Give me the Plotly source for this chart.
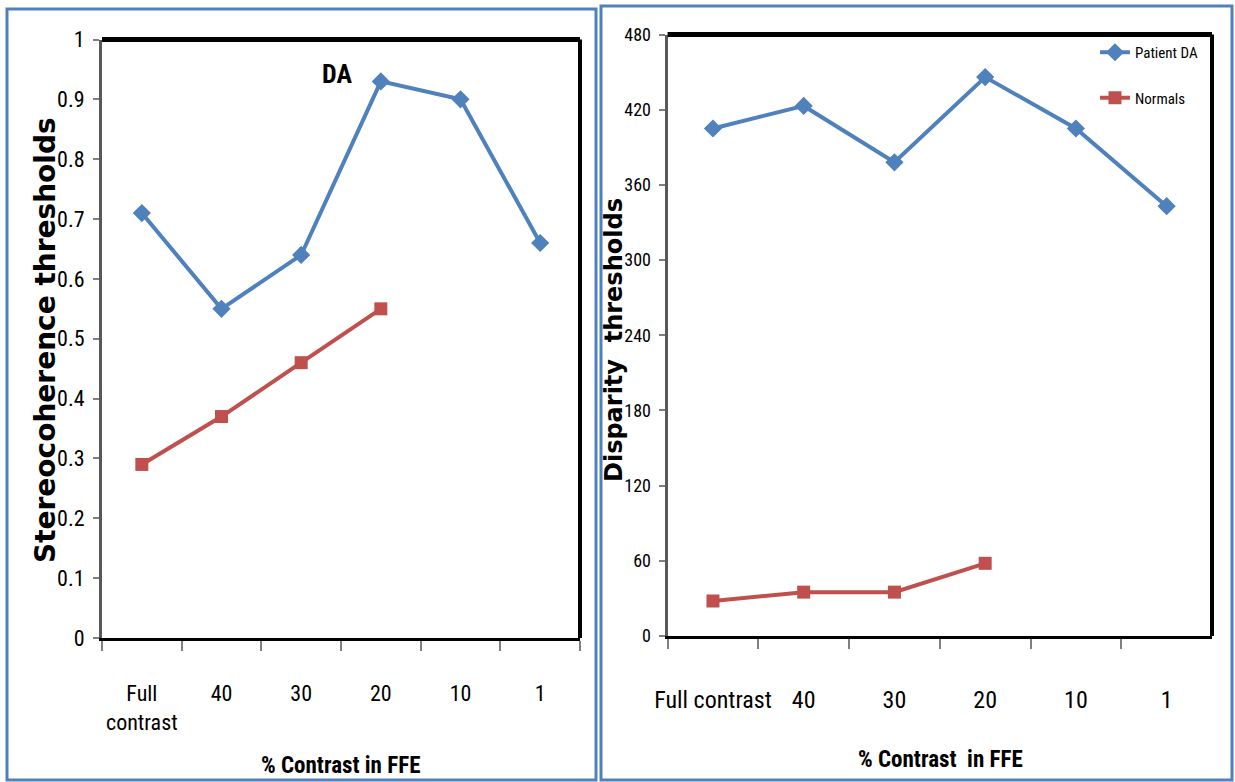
import plotly.graph_objects as go
from plotly.subplots import make_subplots

categories = ["Full contrast", "40", "30", "20", "10", "1"]
left_tick_labels = ["Full<br>contrast", "40", "30", "20", "10", "1"]
right_tick_labels = ["Full contrast", "40", "30", "20", "10", "1"]

stereo_patient = [0.71, 0.55, 0.64, 0.93, 0.90, 0.66]
stereo_normals = [0.29, 0.37, 0.46, 0.55, None, None]

disp_patient = [405, 423, 378, 446, 405, 343]
disp_normals = [28, 35, 35, 58, None, None]

left_yticks = [0, 0.1, 0.2, 0.3, 0.4, 0.5, 0.6, 0.7, 0.8, 0.9, 1]
right_yticks = [0, 60, 120, 180, 240, 300, 360, 420, 480]

W, H = 1235, 782
BLUE = "#4F81BD"
RED = "#C0504D"
NARROW = "Liberation Sans Narrow, Arial Narrow, Roboto Condensed, sans-serif"
WIDE = "DejaVu Sans, Verdana, sans-serif"


def px(x):
    return x / W


def py(y):
    return 1 - y / H


fig = make_subplots(rows=1, cols=2)

fig.add_trace(go.Scatter(x=categories, y=stereo_patient, mode="lines+markers",
                         line=dict(color=BLUE, width=4),
                         marker=dict(symbol="diamond", size=14, color=BLUE),
                         showlegend=False, name="Patient DA"), row=1, col=1)
fig.add_trace(go.Scatter(x=categories, y=stereo_normals, mode="lines+markers",
                         line=dict(color=RED, width=4),
                         marker=dict(symbol="square", size=13, color=RED),
                         showlegend=False, name="Normals"), row=1, col=1)
fig.add_trace(go.Scatter(x=categories, y=disp_patient, mode="lines+markers",
                         line=dict(color=BLUE, width=4),
                         marker=dict(symbol="diamond", size=14, color=BLUE),
                         name="Patient DA", legendgroup="a"), row=1, col=2)
fig.add_trace(go.Scatter(x=categories, y=disp_normals, mode="lines+markers",
                         line=dict(color=RED, width=4),
                         marker=dict(symbol="square", size=13, color=RED),
                         name="Normals", legendgroup="b"), row=1, col=2)

axis_common = dict(showgrid=False, zeroline=False, ticks="outside",
                   tickcolor="#808080", tickwidth=2, automargin=False)

fig.update_xaxes(axis_common, type="category", tickson="boundaries", ticklen=10,
                 range=[-0.5, len(categories) - 0.5],
                 tickangle=0, showline=True, linecolor="black", linewidth=3,
                 tickfont=dict(family=NARROW, size=22, color="black"))
fig.update_yaxes(axis_common, ticklen=6, showline=True, linecolor="#595959", linewidth=3,
                 ticklabelstandoff=4,
                 tickfont=dict(family=NARROW, size=22, color="black"))

fig.update_xaxes(domain=[px(102), px(580)], tickvals=categories, ticktext=left_tick_labels,
                 ticklabelstandoff=34, row=1, col=1)
fig.update_yaxes(domain=[py(638), py(39.5)], range=[0, 1], tickvals=left_yticks,
                 ticktext=[("%g" % v) for v in left_yticks], row=1, col=1)
fig.update_xaxes(domain=[px(667.6), px(1212)], tickvals=categories, ticktext=right_tick_labels,
                 ticklabelstandoff=40, tickfont=dict(size=24), row=1, col=2)
fig.update_yaxes(domain=[py(636), py(34.5)], range=[0, 480], tickvals=right_yticks,
                 tickfont=dict(size=18), row=1, col=2)

shapes = []
# panel frames
shapes.append(dict(type="rect", xref="paper", yref="paper", x0=px(7), x1=px(596), y0=py(780), y1=py(9),
                   line=dict(color=BLUE, width=3)))
shapes.append(dict(type="rect", xref="paper", yref="paper", x0=px(601), x1=px(1232), y0=py(780), y1=py(6),
                   line=dict(color=BLUE, width=3)))
# top and right black borders of plot areas
for xr, yr in [("x domain", "y domain"), ("x2 domain", "y2 domain")]:
    shapes.append(dict(type="line", xref=xr, yref=yr, x0=0, x1=1, y0=1, y1=1,
                       line=dict(color="black", width=5)))
    shapes.append(dict(type="line", xref=xr, yref=yr, x0=1, x1=1, y0=0, y1=1,
                       line=dict(color="black", width=4)))

ann_common = dict(xref="paper", yref="paper", showarrow=False, xanchor="center", yanchor="middle")
annotations = [
    dict(ann_common, text="<b>DA</b>", x=px(337), y=py(74),
         font=dict(family=NARROW, size=26, color="black")),
    dict(ann_common, text="<b>Stereocoherence thresholds</b>", x=px(46), y=py(340), textangle=-90,
         font=dict(family=WIDE, size=28, color="black")),
    dict(ann_common, text="<b>Disparity  thresholds</b>", x=px(614), y=py(340), textangle=-90,
         font=dict(family=WIDE, size=24, color="black")),
    dict(ann_common, text="<b>% Contrast in FFE</b>", x=px(340), y=py(765),
         font=dict(family=NARROW, size=23, color="black")),
    dict(ann_common, text="<b>% Contrast  in FFE</b>", x=px(941), y=py(759),
         font=dict(family=NARROW, size=23, color="black")),
]

fig.update_layout(
    width=W, height=H, margin=dict(l=0, r=0, t=0, b=0, autoexpand=False),
    paper_bgcolor="white", plot_bgcolor="white",
    shapes=shapes, annotations=annotations,
    legend=dict(x=px(1095), y=py(36), xanchor="left", yanchor="top",
                font=dict(family=NARROW, size=15, color="black"),
                tracegroupgap=23, bgcolor="rgba(0,0,0,0)", itemwidth=30),
)

fig.write_html("out.html")
